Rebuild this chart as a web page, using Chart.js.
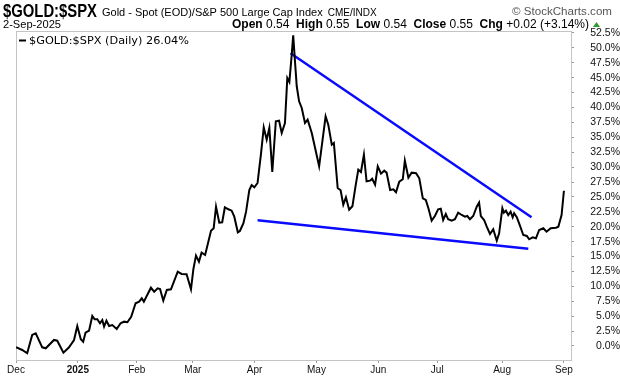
<!DOCTYPE html>
<html>
<head>
<meta charset="utf-8">
<script src="https://cdn.jsdelivr.net/npm/chart.js@4/dist/chart.umd.min.js"></script>
<style>
  html, body { margin: 0; padding: 0; background: #fff; }
  canvas { display: block; }
</style>
</head>
<body>
<canvas id="ratioChart" width="620" height="376"></canvas>
<script>
// trading-day index since 2-Dec-2024 and ratio change in %
const sessionIdx = [
  0, 2.1, 3.8, 5.5, 6.7, 8.9, 10.1, 12.9, 14.0, 16.1,
  18.0, 19.7, 20.8, 22.0, 22.8, 23.6, 24.8, 25.9, 26.7, 27.6,
  28.5, 29.3, 29.9, 30.7, 31.6, 32.7, 34.2, 35.5, 36.7, 37.8,
  39.1, 40.6, 41.8, 42.7, 43.4, 45.8, 46.9, 48.1, 48.9, 50.0,
  51.2, 52.6, 54.9, 56.2, 57.9, 59.4, 60.2, 61.1, 62.1, 63.0,
  64.2, 66.2, 67.1, 67.9, 69.0, 70.0, 70.9, 72.1, 73.2, 74.1,
  75.3, 76.0, 77.2, 78.1, 79.2, 80.0, 80.9, 82.0, 83.2, 84.1,
  85.1, 86.0, 87.0, 88.2, 89.3, 90.2, 91.3, 92.1, 92.8, 93.6,
  94.1, 94.7, 95.3, 96.1, 97.0, 98.1, 99.0, 100.4, 102.9, 105.1,
  106.0, 107.2, 107.9, 109.2, 110.2, 111.1, 112.0, 113.1, 114.2, 115.3,
  116.2, 117.1, 118.1, 119.0, 120.2, 120.9, 121.9, 122.8, 123.9, 125.0,
  125.8, 127.0, 128.1, 129.0, 130.1, 131.3, 132.0, 133.2, 134.3, 135.8,
  136.9, 138.1, 139.1, 140.0, 141.1, 142.2, 143.3, 144.2, 145.0, 145.9,
  146.7, 147.9, 149.0, 150.1, 151.3, 152.4, 153.2, 154.1, 155.2, 156.4,
  157.2, 157.8, 158.9, 159.8, 160.9, 162.0, 163.2, 164.0, 165.1, 165.6,
  166.3, 167.1, 167.9, 168.6, 169.1, 170.0, 171.1, 172.2, 173.4, 174.2,
  175.4, 176.5, 177.6, 179.0, 180.1, 181.5, 183.3, 184.1, 185.2, 186.0
];
const ratioPct = [
  -0.2, -0.67, -1.22, 1.85, 2.13, -0.22, -0.39, 1.01, 0.89, -1.12,
  -0.22, 1.01, 3.35, 1.12, 0.72, 2.23, 2.57, 5.03, 4.48, 4.48,
  3.81, 4.36, 3.24, 4.24, 3.35, 3.52, 2.85, 3.81, 4.08, 3.98,
  4.91, 7.16, 7.43, 8.0, 7.43, 9.78, 9.11, 9.68, 9.56, 7.60,
  9.39, 9.51, 12.46, 12.08, 12.03, 9.51, 12.86, 15.15, 14.14, 15.65,
  15.26, 19.34, 19.74, 23.36, 20.68, 20.75, 23.26, 22.93, 22.69, 21.69,
  19.07, 19.29, 20.58, 22.53, 26.17, 27.0, 26.62, 27.34, 32.4, 36.65,
  34.6, 36.56, 29.18, 37.69, 37.79, 35.73, 37.4, 44.95, 44.28, 48.86,
  52.11, 47.75, 43.56, 41.04, 39.92, 37.4, 37.96, 35.73, 30.14, 38.53,
  37.12, 33.76, 34.05, 26.5, 26.12, 23.7, 24.94, 22.86, 23.43, 26.95,
  29.57, 29.18, 32.09, 27.62, 27.73, 28.06, 27.05, 30.14, 28.9, 29.4,
  29.07, 26.17, 26.28, 25.78, 27.56, 27.96, 31.08, 28.23, 29.07, 28.97,
  28.13, 24.77, 24.49, 23.1, 21.02, 21.8, 22.93, 23.03, 21.13, 22.14,
  21.25, 21.02, 21.25, 22.36, 21.97, 21.69, 21.8, 21.25, 21.8, 23.36,
  24.04, 21.8, 21.13, 20.01, 18.79, 19.57, 17.66, 18.9, 23.1, 22.36,
  22.69, 21.97, 22.53, 21.59, 22.26, 21.59, 20.13, 18.62, 18.45, 17.9,
  18.23, 18.06, 19.46, 19.74, 19.17, 19.74, 19.84, 20.01, 21.97, 26.04
];

// trend lines (start, end)
const upperTrendIdx = [93.2, 175.0];
const upperTrendPct = [49.1, 21.6];
const lowerTrendIdx = [82.0, 173.9];
const lowerTrendPct = [21.1, 16.3];

// axis ticks
const monthIdx = [0, 21, 41, 60, 81, 102, 123, 143, 165, 186];
const monthLabels = ['Dec', '2025', 'Feb', 'Mar', 'Apr', 'May', 'Jun', 'Jul', 'Aug', 'Sep'];
const pctTicks = [0, 2.5, 5, 7.5, 10, 12.5, 15, 17.5, 20, 22.5, 25, 27.5, 30, 32.5, 35, 37.5, 40, 42.5, 45, 47.5, 50, 52.5];

const toPoints = (xs, ys) => xs.map((x, i) => ({ x: x, y: ys[i] }));

// draws text, optionally squeezed to a given width; returns the drawn width
function fitText(ctx, text, x, y, font, width, color, align) {
  ctx.save();
  ctx.font = font;
  ctx.fillStyle = color || '#000';
  ctx.textBaseline = 'alphabetic';
  ctx.textAlign = 'left';
  const w = ctx.measureText(text).width;
  const k = width ? width / w : 1;
  const left = align === 'right' ? x - w * k : x;
  ctx.translate(left, y);
  ctx.scale(k, 1);
  ctx.fillText(text, 0, 0);
  ctx.restore();
  return w * k;
}

const headerPlugin = {
  id: 'header',
  beforeDatasetsDraw(chart) {
    const { ctx, chartArea: a } = chart;
    ctx.save();
    ctx.strokeStyle = '#c4c4c4';
    ctx.lineWidth = 1;
    ctx.strokeRect(a.left + 0.5, a.top + 0.5, a.right - a.left, a.bottom - a.top);
    ctx.restore();
  },
  afterDraw(chart) {
    const ctx = chart.ctx;
    fitText(ctx, '$GOLD:$SPX', 3, 17, 'bold 18px "Liberation Sans"', 94);
    const w = fitText(ctx, 'Gold - Spot (EOD)/S&P 500 Large Cap Index', 102, 16, '11px "Liberation Sans"');
    fitText(ctx, 'CME/INDX', 102 + w + 5, 16, '10px "Liberation Sans"');
    fitText(ctx, '\u00a9 StockCharts.com', 612, 15, '11px "Liberation Sans"', 100, '#555', 'right');
    fitText(ctx, '2-Sep-2025', 3, 28, '11px "Liberation Sans"', 58);

    // OHLC line
    const parts = [
      ['Open', true], [' 0.54  ', false], ['High', true], [' 0.55  ', false],
      ['Low', true], [' 0.54  ', false], ['Close', true], [' 0.55  ', false],
      ['Chg', true], [' +0.02 (+3.14%)', false]
    ];
    ctx.save();
    let total = 0;
    parts.forEach(p => {
      ctx.font = (p[1] ? 'bold ' : '') + '12px "Liberation Sans"';
      total += ctx.measureText(p[0]).width;
    });
    ctx.restore();
    const k = (589 - 232) / total;
    let x = 232;
    parts.forEach(p => {
      const font = (p[1] ? 'bold ' : '') + '12px "Liberation Sans"';
      ctx.save();
      ctx.font = font;
      const pw = ctx.measureText(p[0]).width * k;
      ctx.restore();
      fitText(ctx, p[0], x, 28, font, pw);
      x += pw;
    });
    ctx.save();
    ctx.fillStyle = '#2e9a2e';
    ctx.beginPath();
    ctx.moveTo(593, 27);
    ctx.lineTo(600, 27);
    ctx.lineTo(596.5, 22);
    ctx.closePath();
    ctx.fill();
    ctx.restore();

    // legend
    ctx.save();
    ctx.strokeStyle = '#000';
    ctx.lineWidth = 2;
    ctx.beginPath();
    ctx.moveTo(19, 40.5);
    ctx.lineTo(26, 40.5);
    ctx.stroke();
    ctx.restore();
    fitText(ctx, '$GOLD:$SPX (Daily) 26.04%', 29, 44, '10px "DejaVu Sans"', 160);
  }
};

const ctx = document.getElementById('ratioChart').getContext('2d');

const ratioChart = new Chart(ctx, {
  type: 'line',
  data: {
    datasets: [
      {
        label: '$GOLD:$SPX (Daily)',
        data: toPoints(sessionIdx, ratioPct),
        borderColor: '#000',
        borderWidth: 2,
        pointRadius: 0,
        tension: 0
      },
      {
        label: 'upper',
        data: toPoints(upperTrendIdx, upperTrendPct),
        borderColor: '#0a0aff',
        borderWidth: 2.5,
        pointRadius: 0
      },
      {
        label: 'lower',
        data: toPoints(lowerTrendIdx, lowerTrendPct),
        borderColor: '#0a0aff',
        borderWidth: 2.5,
        pointRadius: 0
      }
    ]
  },
  options: {
    responsive: false,
    animation: false,
    layout: { padding: { top: 31, left: 16, right: 0, bottom: 0 } },
    plugins: {
      legend: { display: false },
      tooltip: { enabled: false }
    },
    scales: {
      x: {
        type: 'linear',
        min: 0,
        max: 188.4,
        afterBuildTicks: axis => { axis.ticks = monthIdx.map(v => ({ value: v })); },
        afterFit: axis => { axis.height = 16; },
        ticks: {
          autoSkip: false,
          maxRotation: 0,
          padding: 1,
          color: '#111',
          font: c => ({
            family: '"Liberation Sans"',
            size: 10,
            weight: (c.tick && c.tick.label === '2025') ? 'bold' : 'normal'
          }),
          callback: (v, i) => monthLabels[i]
        },
        grid: { drawOnChartArea: false, tickLength: 3, color: '#999' },
        border: { color: '#c4c4c4' }
      },
      y: {
        position: 'right',
        min: -2.35,
        max: 52.83,
        afterBuildTicks: axis => { axis.ticks = pctTicks.map(v => ({ value: v })); },
        afterFit: axis => { axis.width = 49; },
        ticks: {
          autoSkip: false,
          padding: 2,
          crossAlign: 'far',
          color: '#111',
          font: { family: '"Liberation Sans"', size: 10.5 },
          callback: v => v.toFixed(1) + '%'
        },
        grid: { drawOnChartArea: false, tickLength: 3, color: '#999' },
        border: { color: '#c4c4c4' }
      }
    }
  },
  plugins: [headerPlugin]
});
</script>
</body>
</html>
